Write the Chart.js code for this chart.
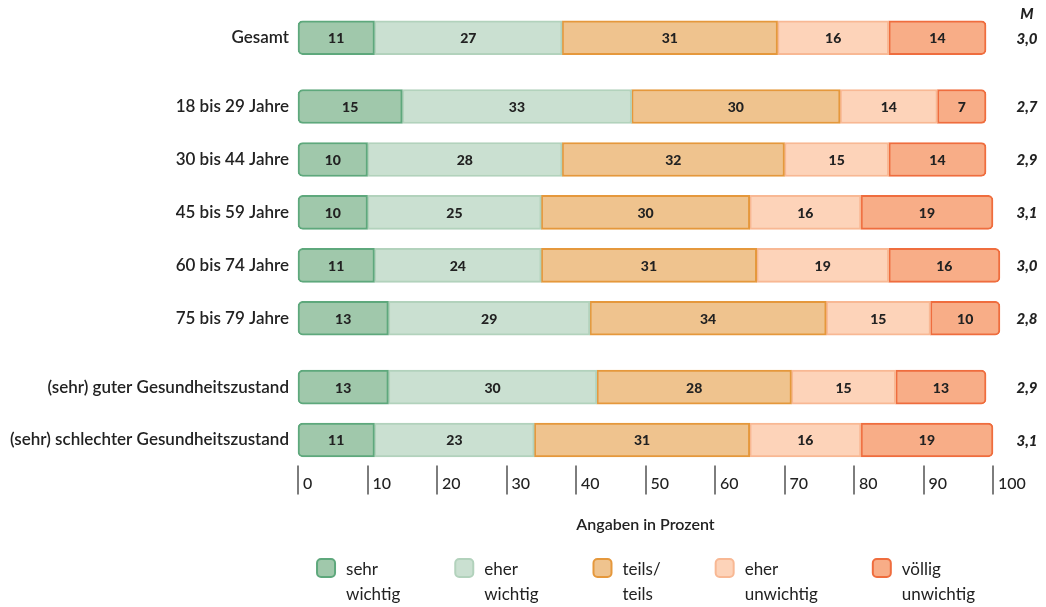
<!DOCTYPE html>
<html lang="de">
<head>
<meta charset="utf-8">
<title>Wichtigkeit nach Alter und Gesundheitszustand</title>
<script src="https://cdn.jsdelivr.net/npm/chart.js@4.4.1/dist/chart.umd.min.js"></script>
<style>
  html, body { margin: 0; padding: 0; background: #fff; }
  #wrap { width: 1046px; height: 607px; }
</style>
</head>
<body>
<div id="wrap"><canvas id="myChart" width="1046" height="607"></canvas></div>
<script>
// rows, in drawing order from top to bottom
const categories = [
  'Gesamt',
  '18 bis 29 Jahre',
  '30 bis 44 Jahre',
  '45 bis 59 Jahre',
  '60 bis 74 Jahre',
  '75 bis 79 Jahre',
  '(sehr) guter Gesundheitszustand',
  '(sehr) schlechter Gesundheitszustand'
];
// block each row belongs to (Gesamt / Alter / Gesundheit)
const rowGroup = [0, 1, 1, 1, 1, 1, 2, 2];

// answers in percent
const sehrWichtig      = [11, 15, 10, 10, 11, 13, 13, 11];
const eherWichtig      = [27, 33, 28, 25, 24, 29, 30, 23];
const teilsTeils       = [31, 30, 32, 30, 31, 34, 28, 31];
const eherUnwichtig    = [16, 14, 15, 16, 19, 15, 15, 16];
const voelligUnwichtig = [14,  7, 14, 19, 16, 10, 13, 19];

// mean values M
const mittelwerte = [3.0, 2.7, 2.9, 3.1, 3.0, 2.8, 2.9, 3.1];

const seriesNames = [
  ['sehr', 'wichtig'],
  ['eher', 'wichtig'],
  ['teils/', 'teils'],
  ['eher', 'unwichtig'],
  ['völlig', 'unwichtig']
];
const xTicks = [0, 10, 20, 30, 40, 50, 60, 70, 80, 90, 100];

const FONT = "'Lato', sans-serif";
const TEXT = '#222222';

// extra space between the blocks
const GROUP_GAP = 0.3;
const rowPos = categories.map((c, i) => i + rowGroup[i] * GROUP_GAP);

const fills   = ['#a0c8ab', '#cae0d1', '#efc38e', '#fdd3b9', '#f8ad87'];
const borders = ['#5ea87c', '#b2d2bc', '#e5983c', '#f8b894', '#ef6d3e'];
const seriesData = [sehrWichtig, eherWichtig, teilsTeils, eherUnwichtig, voelligUnwichtig];

const last = seriesData.length - 1;
const datasets = seriesData.map((values, k) => ({
  label: seriesNames[k].join(' '),
  data: values,
  backgroundColor: fills[k],
  borderColor: borders[k],
  borderWidth: 2,
  borderSkipped: false,
  borderRadius: k === 0 ? {topLeft: 5, bottomLeft: 5}
              : k === last ? {topRight: 5, bottomRight: 5} : 0,
  barThickness: 34,
  clip: false
}));

// numbers inside the segments
const segmentLabels = {
  id: 'segmentLabels',
  afterDatasetsDraw(chart) {
    const ctx = chart.ctx;
    ctx.save();
    ctx.font = `900 14px ${FONT}`;
    ctx.fillStyle = TEXT;
    ctx.textAlign = 'center';
    ctx.textBaseline = 'middle';
    chart.data.datasets.forEach((ds, k) => {
      chart.getDatasetMeta(k).data.forEach((bar, i) => {
        ctx.fillText(String(ds.data[i]), (bar.x + bar.base) / 2, bar.y + 1);
      });
    });
    ctx.restore();
  }
};

// tick strokes under the bars, M column and legend
const extras = {
  id: 'extras',
  afterDraw(chart) {
    const ctx = chart.ctx;
    const area = chart.chartArea;
    const xs = chart.scales.x;
    const ys = chart.scales.y;
    ctx.save();

    ctx.strokeStyle = '#7d7d7d';
    ctx.lineWidth = 2;
    xTicks.forEach(v => {
      const px = Math.round(xs.getPixelForValue(v));
      ctx.beginPath();
      ctx.moveTo(px, area.bottom + 7);
      ctx.lineTo(px, area.bottom + 36);
      ctx.stroke();
    });

    const mx = area.right + 34;
    ctx.fillStyle = TEXT;
    ctx.textAlign = 'center';
    ctx.textBaseline = 'middle';
    ctx.font = `italic 900 15px ${FONT}`;
    ctx.fillText('M', mx, 14);
    mittelwerte.forEach((m, i) => {
      ctx.fillText(m.toFixed(1).replace('.', ','), mx, ys.getPixelForValue(rowPos[i]) + 1);
    });

    // legend
    ctx.font = `17px ${FONT}`;
    ctx.textAlign = 'left';
    const box = 20, boxGap = 10, itemGap = 54;
    const widths = seriesNames.map(lines => Math.max(...lines.map(l => ctx.measureText(l).width)));
    const total = widths.reduce((s, w) => s + box + boxGap + w, 0) + itemGap * (widths.length - 1);
    let lx = (area.left + area.right) / 2 - total / 2;
    const ly = 558;
    seriesNames.forEach((lines, k) => {
      ctx.beginPath();
      ctx.roundRect(lx + 1, ly + 1, box - 2, box - 2, 4);
      ctx.fillStyle = fills[k];
      ctx.fill();
      ctx.strokeStyle = borders[k];
      ctx.lineWidth = 2;
      ctx.stroke();
      ctx.fillStyle = TEXT;
      lines.forEach((line, j) => ctx.fillText(line, lx + box + boxGap, ly + 12 + j * 25));
      lx += box + boxGap + widths[k] + itemGap;
    });
    ctx.restore();
  }
};

new Chart(document.getElementById('myChart'), {
  type: 'bar',
  data: { labels: rowPos, datasets },
  options: {
    responsive: false,
    animation: false,
    indexAxis: 'y',
    layout: { padding: { left: 8, right: 53, top: 18.5, bottom: 68.5 } },
    plugins: { legend: { display: false }, tooltip: { enabled: false } },
    scales: {
      x: {
        type: 'linear',
        stacked: true,
        min: 0,
        max: 100,
        position: 'bottom',
        grid: { display: false, drawTicks: false },
        border: { display: false },
        afterBuildTicks: axis => { axis.ticks = xTicks.map(v => ({ value: v })); },
        afterFit: axis => { axis.height = 80; },
        ticks: {
          autoSkip: false,
          maxRotation: 0,
          align: 'start',
          labelOffset: 5,
          padding: 16,
          color: TEXT,
          font: { family: FONT, size: 16, weight: '500' }
        },
        title: {
          display: true,
          text: 'Angaben in Prozent',
          color: TEXT,
          font: { family: FONT, size: 16, weight: '600' },
          padding: { top: 0, bottom: 4 }
        }
      },
      y: {
        type: 'linear',
        stacked: true,
        reverse: true,
        offset: false,
        min: -0.35,
        max: rowPos[rowPos.length - 1] + 0.35,
        grid: { display: false, drawTicks: false, offset: false },
        border: { display: false },
        afterBuildTicks: axis => { axis.ticks = rowPos.map(v => ({ value: v })); },
        afterFit: axis => { axis.width = 290; },
        ticks: {
          autoSkip: false,
          padding: 9,
          color: TEXT,
          font: { family: FONT, size: 17, weight: '600' },
          callback: (value, index) => categories[index]
        }
      }
    }
  },
  plugins: [segmentLabels, extras]
});
</script>
</body>
</html>
